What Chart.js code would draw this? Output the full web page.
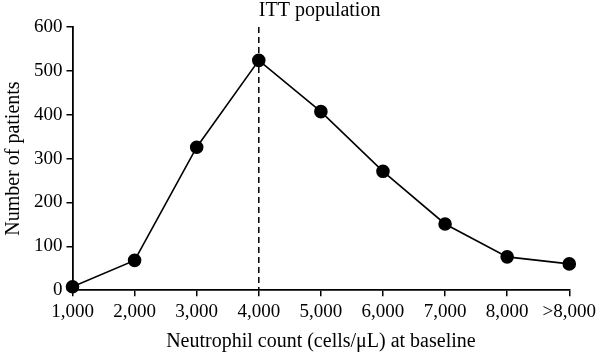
<!DOCTYPE html>
<html>
<head>
<meta charset="utf-8">
<script src="https://cdn.jsdelivr.net/npm/chart.js@4/dist/chart.umd.min.js"></script>
<style>
  html, body { margin: 0; padding: 0; background: #fff; }
  #wrap { width: 600px; height: 354px; }
</style>
</head>
<body>
<div id="wrap"><canvas id="c"></canvas></div>
<script>
const countLabels = ['1,000', '2,000', '3,000', '4,000', '5,000', '6,000', '7,000', '8,000', '>8,000']
const patients = [8, 68, 326, 524, 407, 271, 151, 76, 60]
const markerLabel = '4,000'
const markerText = 'ITT population'
const inkCokir = '#000000'
const serif = "'Liberation Serif', 'DejaVu Serif', serif"

const ittLine = {
  id: 'ittLine',
  afterDatasetsDraw(chart) {
    const { ctx, chartArea, scales } = chart
    const x = scales.x.getPixelForValue(countLabels.indexOf(markerLabel))
    ctx.save()
    ctx.strokeStyle = inkCokir
    ctx.lineWidth = 1.5
    ctx.setLineDash([6, 4])
    ctx.beginPath()
    ctx.moveTo(x, chartArea.top)
    ctx.lineTo(x, chartArea.bottom)
    ctx.stroke()
    ctx.setLineDash([])
    ctx.fillStyle = inkCokir
    ctx.font = '20px ' + serif
    ctx.textAlign = 'left'
    ctx.textBaseline = 'middle'
    ctx.fillText(markerText, x, 11)
    ctx.restore()
  }
}

const axisLook = (title) => ({
  grid: { display: true, drawOnChartArea: false, drawTicks: true, tickLength: 6, color: inkCokir, lineWidth: 1.5 },
  border: { display: true, color: inkCokir, width: 1.8 },
  title: { display: true, text: title, color: inkCokir, font: { family: serif, size: 20 }, padding: { top: 3, bottom: 0 } },
  ticks: { color: inkCokir, font: { family: serif, size: 19 }, padding: 4 }
})

const xAxis = axisLook('Neutrophil count (cells/μL) at baseline')
xAxis.offset = false
xAxis.ticks.maxRotation = 0
xAxis.ticks.autoSkip = false

const yAxis = axisLook('Number of patients')
yAxis.min = 0
yAxis.max = 600
yAxis.ticks.stepSize = 100
yAxis.title.padding = { top: 0, bottom: 4 }

new Chart(document.getElementById('c'), {
  type: 'line',
  data: {
    labels: countLabels,
    datasets: [{
      data: patients,
      borderColor: inkCokir,
      backgroundColor: inkCokir,
      borderWidth: 1.6,
      pointRadius: 6,
      pointHoverRadius: 6,
      tension: 0,
      clip: false
    }]
  },
  options: {
    responsive: true,
    maintainAspectRatio: false,
    animation: false,
    layout: { padding: { top: 27, right: 0, left: 2, bottom: 0 } },
    plugins: { legend: { display: false }, tooltip: { enabled: false } },
    scales: { x: xAxis, y: yAxis }
  },
  plugins: [ittLine]
})
</script>
</body>
</html>
